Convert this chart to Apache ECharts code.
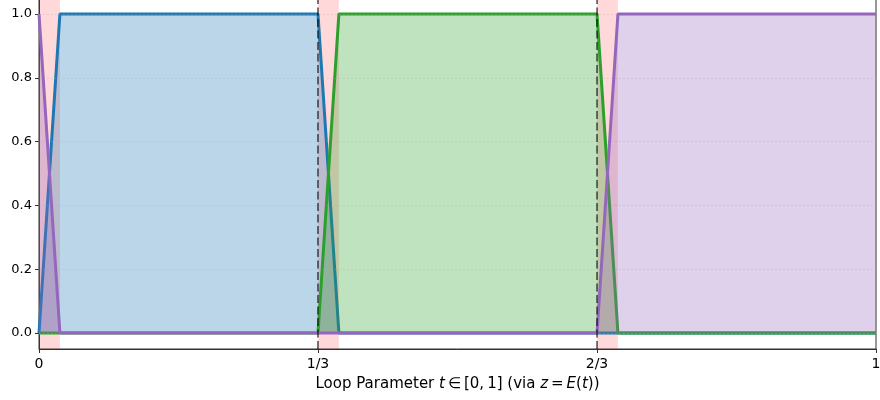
<!DOCTYPE html>
<html>
<head>
<meta charset="utf-8">
<script src="https://cdn.jsdelivr.net/npm/echarts@6/dist/echarts.min.js"></script>
<style>html,body{margin:0;padding:0;background:#fff}#c{width:880px;height:400px}</style>
</head>
<body>
<div id="c"></div>
<script>
// ---- data ----
const tValues = [0, 0.025, 0.3333, 0.3583, 0.6667, 0.6917, 1.0];
const blueValues = [0, 1, 1, 0, 0, 0, 0];
const greenValues = [0, 0, 0, 1, 1, 0, 0];
const purpleValues = [1, 0, 0, 0, 0, 1, 1];
const transitionWindows = [[0, 0.025], [0.3333, 0.3583], [0.6667, 0.6917]];
const boundaryLines = [0.3333, 0.6667];
const xTickValues = [0, 1/3, 2/3, 1];
const xTickLabels = ['0', '1/3', '2/3', '1'];
const yTickValues = [0, 0.2, 0.4, 0.6, 0.8, 1.0];
const yTickLabels = ['0.0', '0.2', '0.4', '0.6', '0.8', '1.0'];
const yRange = [-0.05, 1.05];

const pairs = (ys) => tValues.map((t, i) => [t, ys[i]]);
const FONT = 'DejaVu Sans';

function lineSeries(name, ys, color, z) {
  return {
    name, type: 'line', data: pairs(ys), showSymbol: false, symbol: 'none',
    z, animation: false,
    lineStyle: { color, width: 3 },
    itemStyle: { color },
    areaStyle: { color, opacity: 0.3, origin: 0 }
  };
}

const boundarySeries = boundaryLines.map((b, i) => ({
  name: 'bound' + i, type: 'line', z: 10, silent: true, showSymbol: false, symbol: 'none',
  data: [[b, yRange[0]], [b, yRange[1]]],
  lineStyle: { color: 'rgba(0,0,0,0.7)', type: [8, 3.5], width: 1.5 }
}));

const chart = echarts.init(document.getElementById('c'), null, { renderer: 'canvas' });
chart.setOption({
  animation: false,
  backgroundColor: '#fff',
  grid: { left: 39, right: 4, top: -2, bottom: 51, show: true, borderColor: '#333', borderWidth: 1, backgroundColor: 'transparent', containLabel: false, outerBoundsMode: 'none' },
  xAxis: {
    type: 'value', min: 0, max: 1,
    axisLine: { show: true, lineStyle: { color: '#333', width: 1 }, onZero: false },
    axisTick: { show: true, inside: false, length: 4, lineStyle: { color: '#333' }, customValues: xTickValues },
    axisLabel: {
      show: true, margin: 8, fontFamily: FONT, fontSize: 14, color: '#000',
      customValues: xTickValues, hideOverlap: false,
      formatter: (v) => xTickLabels[Math.round(v * 3)]
    },
    splitLine: { show: false },
    name: 'Loop Parameter {i|t}\u2009∈\u2009[0,\u20091] (via {i|z}\u2009=\u2009{i|E}({i|t}))',
    nameLocation: 'middle', nameGap: 28,
    nameTextStyle: {
      fontFamily: FONT, fontSize: 15, color: '#000',
      rich: { i: { fontFamily: FONT, fontSize: 15, fontStyle: 'italic', color: '#000' } }
    }
  },
  yAxis: {
    type: 'value', min: yRange[0], max: yRange[1],
    axisLine: { show: true, lineStyle: { color: '#333', width: 1 }, onZero: false },
    axisTick: { show: true, inside: false, length: 4, lineStyle: { color: '#333' }, customValues: yTickValues },
    axisLabel: {
      show: true, margin: 7, fontFamily: FONT, fontSize: 13, color: '#000',
      customValues: yTickValues,
      formatter: (v) => yTickLabels[Math.round(v * 5)]
    },
    splitLine: { show: false }
  },
  series: [
    {
      name: 'windows', type: 'line', data: [], z: 1, silent: true,
      markArea: {
        silent: true,
        itemStyle: { color: 'rgba(255,0,0,0.15)' },
        data: transitionWindows.map(w => [{ xAxis: w[0] }, { xAxis: w[1] }])
      }
    },
    {
      name: 'grid', type: 'line', data: [], z: 2, silent: true,
      markLine: {
        silent: true, symbol: 'none', label: { show: false },
        lineStyle: { color: 'rgba(176,176,176,0.5)', type: [1.5, 2.5], width: 0.8 },
        data: yTickValues.map(v => ({ yAxis: v }))
      }
    },
    lineSeries('blue', blueValues, '#1f77b4', 3),
    lineSeries('green', greenValues, '#2ca02c', 4),
    lineSeries('purple', purpleValues, '#9467bd', 5),
    ...boundarySeries
  ]
});
</script>
</body>
</html>
